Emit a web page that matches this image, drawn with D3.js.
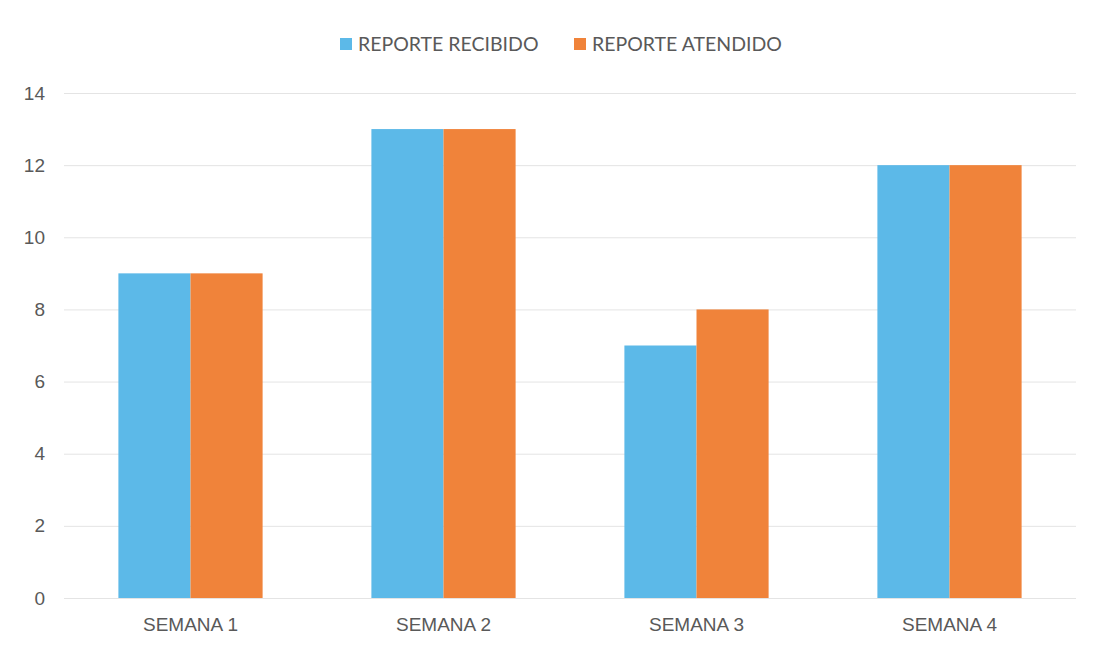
<!DOCTYPE html>
<html>
<head>
<meta charset="utf-8">
<script src="https://cdn.jsdelivr.net/npm/d3@7"></script>
<style>
  body { margin: 0; background: #fff; }
  svg { display: block; font-family: Lato, "Open Sans", sans-serif; }
  .axis text { fill: #595959; font-size: 19px; }
  .axis path, .axis line { display: none; }
</style>
</head>
<body>
<svg id="chart" width="1098" height="654"></svg>
<script>
// data
var semanas = ["SEMANA 1", "SEMANA 2", "SEMANA 3", "SEMANA 4"];
var series = ["REPORTE RECIBIDO", "REPORTE ATENDIDO"];
var recibido = [9, 13, 7, 12];
var atendido = [9, 13, 8, 12];
var yTicks = [0, 2, 4, 6, 8, 10, 12, 14];

var colors = ["#5cb9e8", "#f0833a"];

var svg = d3.select("#chart"),
    margin = {top: 93, right: 22, bottom: 56, left: 64},
    width = +svg.attr("width") - margin.left - margin.right,
    height = +svg.attr("height") - margin.top - margin.bottom,
    g = svg.append("g").attr("transform", "translate(" + margin.left + "," + margin.top + ")");

var rows = semanas.map(function(s, i) {
  return {semana: s, values: [recibido[i], atendido[i]]};
});

var x0 = d3.scaleBand()
    .domain(semanas)
    .range([0, width])
    .paddingInner(0.43)
    .paddingOuter(0.215);

var x1 = d3.scaleBand()
    .domain(d3.range(series.length))
    .range([0, x0.bandwidth()]);

var y = d3.scaleLinear()
    .domain([0, 14])
    .range([height, 0]);

// gridlines
g.append("g")
  .selectAll("line")
  .data(yTicks)
  .enter().append("line")
    .attr("x1", 0)
    .attr("x2", width)
    .attr("y1", function(d) { return y(d) + 0.5; })
    .attr("y2", function(d) { return y(d) + 0.5; })
    .attr("stroke", "#e4e4e4")
    .attr("stroke-width", 1);

// bars
g.append("g")
  .selectAll("g")
  .data(rows)
  .enter().append("g")
    .attr("transform", function(d) { return "translate(" + x0(d.semana) + ",0)"; })
  .selectAll("rect")
  .data(function(d) { return d.values; })
  .enter().append("rect")
    .attr("x", function(d, i) { return x1(i); })
    .attr("y", function(d) { return y(d); })
    .attr("width", x1.bandwidth())
    .attr("height", function(d) { return y(0) - y(d); })
    .attr("fill", function(d, i) { return colors[i]; });

// axes
g.append("g")
    .attr("class", "axis")
    .attr("transform", "translate(0," + height + ")")
    .call(d3.axisBottom(x0).tickSize(0).tickPadding(20));

g.append("g")
    .attr("class", "axis")
    .call(d3.axisLeft(y).tickValues(yTicks).tickSize(0).tickPadding(19));

// legend
var legendX = [340, 574];
var legend = svg.append("g")
  .selectAll("g")
  .data(series)
  .enter().append("g")
    .attr("transform", function(d, i) { return "translate(" + legendX[i] + ",44)"; });

legend.append("rect")
    .attr("x", 0)
    .attr("y", -6)
    .attr("width", 12)
    .attr("height", 12)
    .attr("fill", function(d, i) { return colors[i]; });

legend.append("text")
    .attr("x", 18)
    .attr("y", 0)
    .attr("dy", "0.35em")
    .attr("fill", "#595959")
    .attr("font-size", 19.5)
    .text(function(d) { return d; });
</script>
</body>
</html>
